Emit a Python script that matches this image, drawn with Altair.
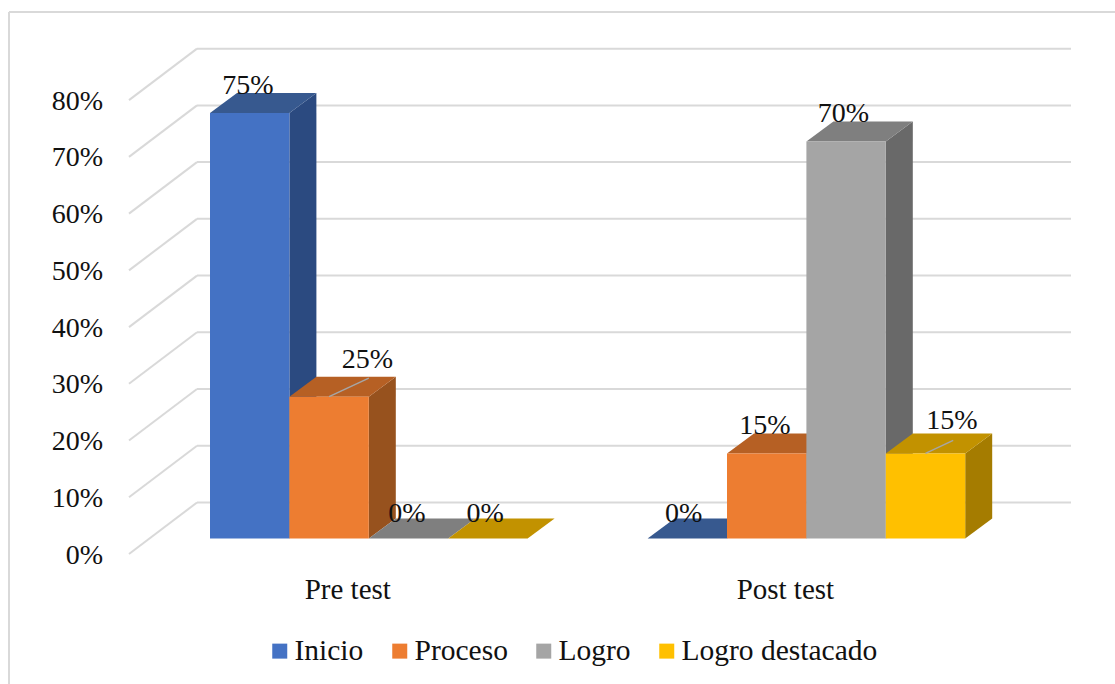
import altair as alt
import pandas as pd

# Survey results: share of students per achievement level, before and after the test
groups = ["Pre test", "Post test"]
series = ["Inicio", "Proceso", "Logro", "Logro destacado"]
pre_values = [75, 25, 0, 0]
post_values = [0, 15, 70, 15]
ticks = [0, 10, 20, 30, 40, 50, 60, 70, 80]

face_colors = ["#4472C4", "#ED7D31", "#A5A5A5", "#FFC000"]
top_colors = ["#37598F", "#B66024", "#7F7F7F", "#C29200"]
side_colors = ["#2B4A80", "#97521E", "#696969", "#A57C00"]

# Offsets of each value label from the top-left corner of its bar, in pixels
label_dx = [38, 78, 38, 37, 36, 38, 37, 66]
label_dy = [-27, -37, -25, -25, -25, -27, -27, -32]

# Canvas and pseudo-3D layout
W, H = 1115, 684
BASE_Y = 538.5           # pixel row of value 0 on the bars' front edge
PX_PER_UNIT = 5.673      # pixels per percentage point
FIRST_BAR_X = 210
GROUP_STEP = 437.6
BAR_W = 79.4
DEPTH_X, DEPTH_Y = 27, 20
WALL_LEFT, WALL_BACK, WALL_RIGHT = 129, 197, 1071
WALL_FRONT_DROP, WALL_BACK_RISE = 15.5, 36
TEXT_COLOR = "#111111"


def units(px):
    return px / PX_PER_UNIT


y_domain = [units(BASE_Y - H), units(BASE_Y)]
x_scale = alt.Scale(domain=[0, W], range=[0, W], nice=False, zero=False)
y_scale = alt.Scale(domain=y_domain, nice=False, zero=False)

bars = []
for g, (group, values) in enumerate(zip(groups, [pre_values, post_values])):
    for s, (name, value) in enumerate(zip(series, values)):
        left = FIRST_BAR_X + g * GROUP_STEP + s * BAR_W
        bars.append(dict(group=group, series=name, value=value, base=0,
                         left=left, right=left + BAR_W,
                         top_fill=top_colors[s], side_fill=side_colors[s],
                         bar=f"{group}-{name}"))
bars_df = pd.DataFrame(bars)

sides, tops = [], []
for b in bars:
    for k in (0, 1):
        sides.append(dict(bar=b["bar"], fill=b["side_fill"],
                          x=b["right"] + k * DEPTH_X,
                          y=b["value"] + k * units(DEPTH_Y),
                          y2=k * units(DEPTH_Y)))
        tops.append(dict(bar=b["bar"], fill=b["top_fill"],
                         y=b["value"] + k * units(DEPTH_Y),
                         x=b["left"] + k * DEPTH_X,
                         x2=b["right"] + k * DEPTH_X))
sides_df = pd.DataFrame(sides)
tops_df = pd.DataFrame(tops)

grid_df = pd.DataFrame({"tick": ticks})
grid_df["back"] = grid_df["tick"] + units(WALL_BACK_RISE)
grid_df["front"] = grid_df["tick"] - units(WALL_FRONT_DROP)
grid_df["x0"] = WALL_LEFT
grid_df["x1"] = WALL_BACK
grid_df["x2"] = WALL_RIGHT

labels_df = bars_df.copy()
labels_df["lx"] = labels_df["left"] + label_dx
labels_df["ly"] = labels_df["value"] - units(pd.Series(label_dy))
labels_df["text"] = labels_df["value"].astype(str) + "%"

# Leader lines run from the middle of the bar's front edge towards the back of its top
leaders_df = labels_df[labels_df["bar"].isin(["Pre test-Proceso", "Post test-Logro destacado"])].copy()
leaders_df["x0"] = leaders_df["left"] + BAR_W / 2
leaders_df["x1"] = leaders_df["right"] - pd.Series([0, 12], index=leaders_df.index)
leaders_df["y1"] = leaders_df["value"] + units(pd.Series([18.5, 13], index=leaders_df.index))

FONT = "Liberation Serif"
x_enc = dict(scale=x_scale)
y_enc = dict(scale=y_scale)

centers = [FIRST_BAR_X + g * GROUP_STEP + 2 * BAR_W for g in range(len(groups))]
x_axis = alt.Axis(values=centers, title=None, grid=False, domain=False, ticks=False,
                  orient="bottom", offset=-95, labelPadding=0, labelBaseline="middle",
                  labelOffset=-21.5, labelFont=FONT, labelFontSize=29, labelColor=TEXT_COLOR,
                  labelOverlap=False, labelFlush=False,
                  labelExpr=f"datum.value < {centers[1]} ? '{groups[0]}' : '{groups[1]}'")
y_axis = alt.Axis(values=ticks, title=None, grid=False, domain=False, ticks=False,
                  orient="left", offset=-102.5, labelPadding=0, labelBaseline="middle",
                  labelOffset=WALL_FRONT_DROP + 1, labelFont=FONT, labelFontSize=28,
                  labelColor=TEXT_COLOR, labelOverlap=False, labelFlush=False,
                  labelExpr="datum.value + '%'")

wall_lines = alt.Chart(grid_df).mark_rule(color="#D9D9D9", strokeWidth=2).encode(
    x=alt.X("x0:Q", axis=x_axis, **x_enc), x2="x1:Q",
    y=alt.Y("front:Q", axis=y_axis, **y_enc), y2="back:Q",
)
back_lines = alt.Chart(grid_df).mark_rule(color="#D9D9D9", strokeWidth=2).encode(
    x=alt.X("x1:Q", **x_enc), x2="x2:Q",
    y=alt.Y("back:Q", **y_enc),
)

side_faces = alt.Chart(sides_df).mark_area(interpolate="linear").encode(
    x=alt.X("x:Q", **x_enc),
    y=alt.Y("y:Q", **y_enc), y2="y2:Q",
    fill=alt.Fill("fill:N", scale=None),
    detail="bar:N",
)
top_faces = alt.Chart(tops_df).mark_area(interpolate="linear", orient="horizontal").encode(
    y=alt.Y("y:Q", **y_enc),
    x=alt.X("x:Q", **x_enc), x2="x2:Q",
    fill=alt.Fill("fill:N", scale=None),
    detail="bar:N",
)
front_faces = alt.Chart(bars_df).mark_rect().encode(
    x=alt.X("left:Q", **x_enc), x2="right:Q",
    y=alt.Y("value:Q", **y_enc), y2="base:Q",
    color=alt.Color(
        "series:N",
        scale=alt.Scale(domain=series, range=face_colors),
        legend=alt.Legend(
            title=None, orient="none", legendX=265, legendY=636, direction="horizontal",
            columns=4, symbolType="square", symbolSize=225, symbolStrokeWidth=0,
            labelFont=FONT, labelFontSize=29.5, labelColor=TEXT_COLOR,
            labelOffset=0, columnPadding=21, labelLimit=400, padding=0,
        ),
    ),
)
leaders = alt.Chart(leaders_df).mark_rule(color="#A6A6A6", strokeWidth=1.5).encode(
    x=alt.X("x0:Q", **x_enc), x2="x1:Q",
    y=alt.Y("value:Q", **y_enc), y2="y1:Q",
)
value_labels = alt.Chart(labels_df).mark_text(
    font=FONT, fontSize=28, color=TEXT_COLOR, align="center", baseline="middle"
).encode(
    x=alt.X("lx:Q", **x_enc),
    y=alt.Y("ly:Q", **y_enc),
    text="text:N",
)

frame_top = alt.Chart(grid_df.head(1)).mark_rule(color="#D9D9D9", strokeWidth=2).encode(
    x=alt.value(9), x2=alt.value(W), y=alt.value(12)
)
frame_left = alt.Chart(grid_df.head(1)).mark_rule(color="#D9D9D9", strokeWidth=2).encode(
    x=alt.value(9), y=alt.value(12), y2=alt.value(H)
)

chart = alt.layer(
    wall_lines, back_lines, frame_top, frame_left,
    side_faces, top_faces, front_faces, leaders, value_labels,
).properties(
    width=W, height=H, padding=0, autosize=alt.AutoSizeParams(type="none"),
    background="white",
).configure_view(stroke=None)

chart.save("out.html", embed_options={"renderer": "svg", "actions": False})
